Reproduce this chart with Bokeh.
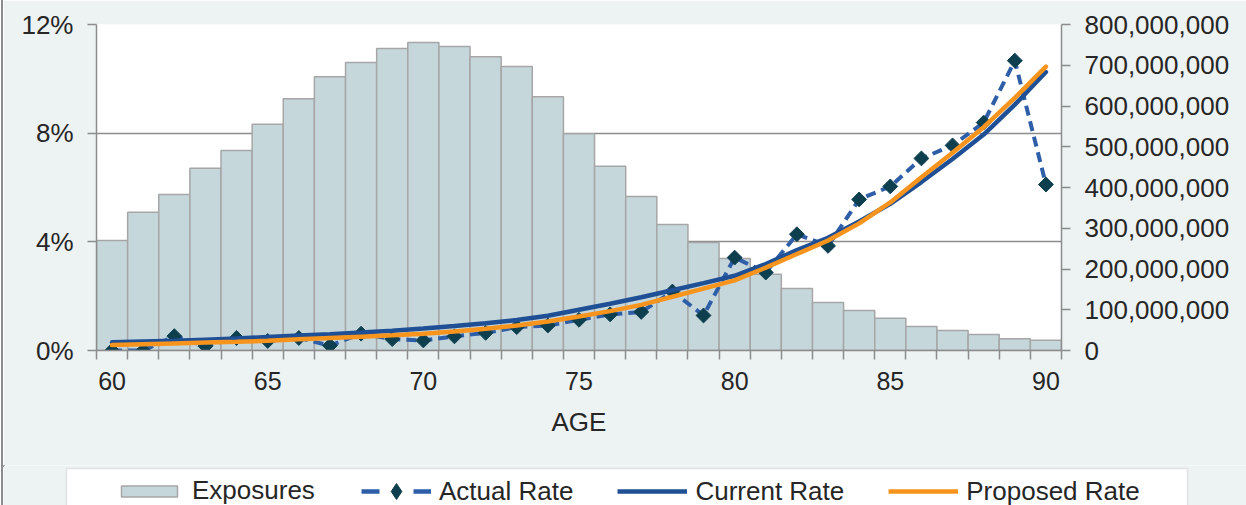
from bokeh.plotting import figure
from bokeh.layouts import column
from bokeh.models import (Range1d, LinearAxis, FixedTicker, PrintfTickFormatter,
                          NumeralTickFormatter, Legend, LegendItem, BoxAnnotation,
                          ColumnDataSource)
from bokeh.embed import file_html
from bokeh.resources import INLINE

ages = list(range(60, 91))
exposures = [270e6, 339e6, 383e6, 447e6, 491e6, 555e6, 618e6, 672e6, 707e6, 741e6,
             756e6, 746e6, 721e6, 697e6, 623e6, 532e6, 452e6, 378e6, 309e6, 265e6,
             226e6, 187e6, 152e6, 118e6, 98e6, 79e6, 59e6, 49e6, 39e6, 29e6, 25e6]
actual_rate = [0.00, 0.00, 0.53, 0.16, 0.46, 0.35, 0.46, 0.18, 0.62, 0.42,
               0.37, 0.52, 0.65, 0.86, 0.92, 1.13, 1.33, 1.42, 2.17, 1.29,
               3.42, 2.87, 4.28, 3.85, 5.56, 6.04, 7.07, 7.55, 8.39, 10.67, 6.11]
current_rate = [0.30, 0.33, 0.36, 0.40, 0.44, 0.50, 0.55, 0.60, 0.66, 0.73,
                0.81, 0.90, 1.00, 1.12, 1.28, 1.50, 1.72, 1.96, 2.22, 2.48,
                2.75, 3.18, 3.70, 4.15, 4.75, 5.40, 6.20, 7.05, 7.95, 9.05, 10.25]
proposed_rate = [0.20, 0.23, 0.26, 0.29, 0.32, 0.36, 0.41, 0.46, 0.51, 0.56,
                 0.62, 0.70, 0.80, 0.92, 1.07, 1.25, 1.45, 1.68, 1.98, 2.28,
                 2.58, 3.05, 3.55, 4.05, 4.68, 5.45, 6.38, 7.28, 8.22, 9.30, 10.45]
rate_ticks = [0, 4, 8, 12]
exp_ticks = [0, 100e6, 200e6, 300e6, 400e6, 500e6, 600e6, 700e6, 800e6]
age_labels = [60, 65, 70, 75, 80, 85, 90]

FONT = "Liberation Sans"
TXT = "#262626"
AX = "#8c8c8c"
BG = "#edf2f2"

C_BAR, C_BAR_LINE = "#c6d7dc", "#a6a6a6"
C_ACT, C_DIAM = "#2e5ea8", "#0e3f4f"
C_CUR, C_PROP = "#1f4f94", "#f7941e"
DIAMOND = 0.785398

src = ColumnDataSource(dict(age=ages, exp=exposures, act=actual_rate,
                            cur=current_rate, prop=proposed_rate))

EDGE = 3  # outer chart border on the left
p = figure(frame_width=965, frame_height=326, output_backend="svg", toolbar_location=None,
           x_range=Range1d(ages[0] - 0.5, ages[-1] + 0.5), y_range=Range1d(0, 12),
           min_border_left=96 - EDGE, min_border_right=185, min_border_top=24,
           min_border_bottom=115,
           border_fill_color=BG, background_fill_color="white", outline_line_color=None)
p.frame_align = False
p.extra_y_ranges = {"exp": Range1d(0, 800e6)}

# axes
xa = p.xaxis[0]
xa.ticker = FixedTicker(ticks=age_labels,
                        minor_ticks=[a - 0.5 for a in ages] + [ages[-1] + 0.5])
xa.major_tick_out = 0
xa.major_tick_in = 0
xa.minor_tick_out = 9
xa.minor_tick_in = 0
xa.minor_tick_line_color = AX
xa.minor_tick_line_width = 1.5
xa.axis_label = "AGE"
xa.major_label_standoff = 12
xa.axis_label_standoff = 14

ya = p.yaxis[0]
ya.ticker = FixedTicker(ticks=rate_ticks, minor_ticks=[])
ya.formatter = PrintfTickFormatter(format="%d%%")
ya.major_label_standoff = 14

ra = LinearAxis(y_range_name="exp", ticker=FixedTicker(ticks=exp_ticks, minor_ticks=[]),
                formatter=NumeralTickFormatter(format="0,0"))
ra.major_label_standoff = 14
p.add_layout(ra, "right")

for ax in [xa, ya, ra]:
    ax.axis_line_color = AX
    ax.axis_line_width = 1.5
    ax.major_tick_line_color = AX
    ax.major_tick_line_width = 1.5
    ax.major_label_text_font = FONT
    ax.major_label_text_font_size = "26px"
    ax.major_label_text_color = TXT
    ax.axis_label_text_font = FONT
    ax.axis_label_text_font_size = "26px"
    ax.axis_label_text_font_style = "normal"
    ax.axis_label_text_color = TXT
xa.major_label_text_font_size = "25px"
for ax in [ya, ra]:
    ax.major_tick_out = 9
    ax.major_tick_in = 0
    ax.minor_tick_line_color = None

p.xgrid.grid_line_color = None
p.ygrid.ticker = FixedTicker(ticks=rate_ticks[1:])
p.ygrid.grid_line_color = AX
p.ygrid.grid_line_width = 1.5

p.vbar(x="age", top="exp", width=1, source=src, y_range_name="exp",
       fill_color=C_BAR, line_color=C_BAR_LINE, line_width=1.5)
p.line("age", "act", source=src, line_color=C_ACT, line_width=4, line_dash="10 6")
p.scatter("age", "act", source=src, marker="square", angle=DIAMOND, size=10.5,
          fill_color=C_DIAM, line_color=C_DIAM)
p.line("age", "cur", source=src, line_color=C_CUR, line_width=4.5, line_cap="round")
p.line("age", "prop", source=src, line_color=C_PROP, line_width=4.5, line_cap="round")

# legend strip at the bottom of the chart (the window cuts its box like the reference).
# The proxy glyphs use ranges that lie outside every value, so they only feed the legend.
LH = 40
lg = figure(width=1246 - EDGE, height=LH, output_backend="svg", toolbar_location=None,
            x_range=Range1d(EDGE, 1246), y_range=Range1d(-60, -20),
            x_axis_location=None, y_axis_location=None,
            min_border=0, min_border_left=0, min_border_right=0,
            min_border_top=0, min_border_bottom=0,
            border_fill_color=BG, background_fill_color=BG, outline_line_color=None)
lg.frame_align = False
lg.extra_x_ranges = {"off": Range1d(5000, 6000)}
lg.extra_y_ranges = {"exp": Range1d(-2.4e9, -1.6e9)}
lg.grid.visible = False
lg.add_layout(BoxAnnotation(left=66, right=1187, top=-23, bottom=-90,
                            fill_color="white", fill_alpha=1,
                            line_color="#b0b0b0", line_width=1.5))
rb = lg.vbar(x="age", top="exp", width=1, source=src, x_range_name="off",
             y_range_name="exp", fill_color=C_BAR, line_color=C_BAR_LINE, line_width=1.5)
ral = lg.line("age", "act", source=src, x_range_name="off", line_color=C_ACT,
              line_width=4.5, line_dash="18 34")
rap = lg.scatter("age", "act", source=src, x_range_name="off", marker="diamond",
                 fill_color=C_DIAM, line_color=C_DIAM)
rc = lg.line("age", "cur", source=src, x_range_name="off", line_color=C_CUR, line_width=4.5)
rp = lg.line("age", "prop", source=src, x_range_name="off", line_color=C_PROP, line_width=4.5)


def style(leg, gh):
    leg.label_text_font = FONT
    leg.label_text_font_size = "26px"
    leg.label_text_color = TXT
    leg.glyph_width = 70
    leg.glyph_height = gh
    leg.label_standoff = 8
    leg.spacing = 44
    leg.padding = 0
    leg.margin = 0
    leg.border_line_color = None
    leg.background_fill_alpha = 0


leg_a = Legend(items=[LegendItem(label="Exposures", renderers=[rb])],
               orientation="horizontal", location=(114 - EDGE, -1))
style(leg_a, 14)
leg_b = Legend(items=[
    LegendItem(label="Actual Rate", renderers=[ral, rap]),
    LegendItem(label="Current Rate", renderers=[rc]),
    LegendItem(label="Proposed Rate", renderers=[rp]),
], orientation="horizontal", location=(361 - EDGE, -6))
style(leg_b, 40)
lg.add_layout(leg_a, "center")
lg.add_layout(leg_b, "center")

layout = column(p, lg, spacing=0,
                styles={"border-left": "2px solid #8c8c8c", "margin-left": "1px"})
open("out.html", "w").write(file_html(layout, INLINE))
